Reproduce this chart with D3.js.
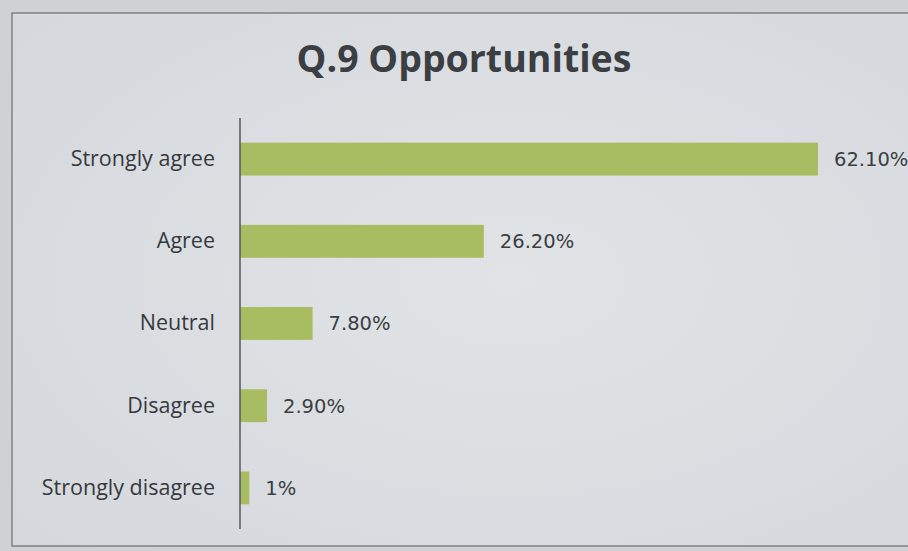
<!DOCTYPE html>
<html lang="en">
<head>
<meta charset="UTF-8">
<title>Q.9 Opportunities</title>
<script src="https://d3js.org/d3.v7.min.js"></script>
<style>
  body { margin: 0; background: #d3d7da; }
  svg { display: block; }
</style>
</head>
<body>
<div id="chart"></div>
<script>
// survey answers and their share of responses (%)
const categories = ["Strongly agree", "Agree", "Neutral", "Disagree", "Strongly disagree"];
const values = [62.1, 26.2, 7.8, 2.9, 1];
const valueLabels = ["62.10%", "26.20%", "7.80%", "2.90%", "1%"];

const width = 908, height = 551;

const svg = d3.select("#chart").append("svg")
  .attr("width", width)
  .attr("height", height);

// slide background with a soft light spot in the middle
const defs = svg.append("defs");
const grad = defs.append("radialGradient").attr("id", "bg")
  .attr("cx", "55%").attr("cy", "50%").attr("r", "70%");
grad.append("stop").attr("offset", "0%").attr("stop-color", "#e0e4e7");
grad.append("stop").attr("offset", "100%").attr("stop-color", "#d5d9dd");

svg.append("rect")
  .attr("width", width).attr("height", height)
  .attr("fill", "#ced2d5");

svg.append("rect")
  .attr("x", 12).attr("y", 13)
  .attr("width", 910).attr("height", 533)
  .attr("fill", "url(#bg)")
  .attr("stroke", "#6a6d70")
  .attr("stroke-width", 1.2);

// title
svg.append("text")
  .attr("x", 464).attr("y", 72)
  .attr("text-anchor", "middle")
  .attr("font-family", "'Open Sans', sans-serif")
  .attr("font-weight", "bold")
  .attr("font-size", 37.5)
  .attr("fill", "#3b3e42")
  .text("Q.9 Opportunities");

const x0 = 240;
const xScale = d3.scaleLinear()
  .domain([0, 62.1])
  .range([x0, 818]);

const yScale = d3.scaleBand()
  .domain(categories)
  .range([118, 529])
  .paddingInner(0.6)
  .paddingOuter(0.3);

// bars
svg.selectAll("rect.bar")
  .data(values)
  .enter()
  .append("rect")
  .attr("class", "bar")
  .attr("x", xScale(0))
  .attr("y", function(d, i) { return yScale(categories[i]); })
  .attr("width", function(d) { return xScale(d) - xScale(0); })
  .attr("height", yScale.bandwidth())
  .attr("fill", "#a8bd62");

// category axis on the left, no ticks
const yAxis = d3.axisLeft(yScale).tickSize(0).tickPadding(25);
const gy = svg.append("g")
  .attr("transform", "translate(" + x0 + ",0)")
  .call(yAxis);
gy.select(".domain")
  .attr("d", "M0,118V529")
  .attr("stroke", "#55585b")
  .attr("stroke-width", 1.5);
gy.selectAll("text")
  .attr("font-family", "'Open Sans', sans-serif")
  .attr("font-size", 21.5)
  .attr("fill", "#36393d");

// value labels
svg.selectAll("text.val")
  .data(values)
  .enter()
  .append("text")
  .attr("class", "val")
  .attr("x", function(d) { return xScale(d) + 16; })
  .attr("y", function(d, i) { return yScale(categories[i]) + yScale.bandwidth() / 2; })
  .attr("dy", "0.35em")
  .attr("font-family", "'DejaVu Sans', sans-serif")
  .attr("font-size", 19.5)
  .attr("fill", "#3b3e42")
  .text(function(d, i) { return valueLabels[i]; });
</script>
</body>
</html>
